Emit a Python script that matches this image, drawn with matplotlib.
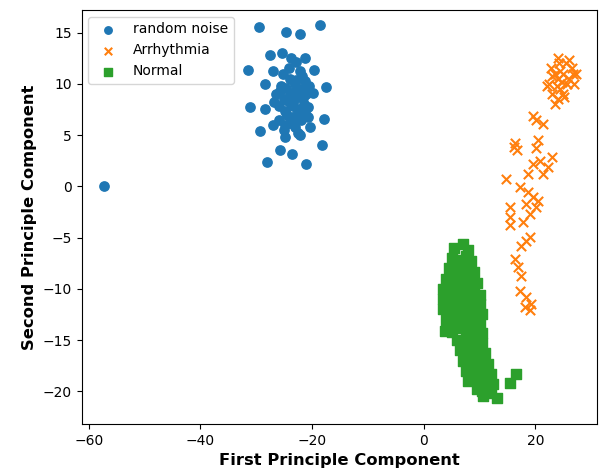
import numpy as np
import matplotlib.pyplot as plt

# random noise cluster (blue)
noise_x = [-57.2, -29.5, -24.6, -22.1, -18.5, -27.5, -25.4, -23.7, -22.8, -21.3,
           -31.5, -27.0, -25.2, -22.2, -19.7, -28.5, -21.3, -17.5, -31.2, -28.5,
           -19.9, -20.8, -17.8, -29.3, -27.0, -20.4, -22.2, -24.9, -25.8, -23.6,
           -18.3, -28.1, -21.0,
           -24.0, -23.0, -22.5, -24.5, -23.5, -22.0, -25.0, -26.0, -21.5, -23.0,
           -24.0, -25.5, -22.0, -23.0, -24.8, -21.0, -26.5, -20.5, -25.0, -22.8,
           -23.8, -21.8, -26.0, -22.5, -24.2, -20.8, -26.8, -23.2, -24.6, -21.2,
           -23.4, -22.2, -24.9, -25.7, -23.9, -21.6, -22.9, -24.3]
noise_y = [0.0, 15.5, 15.1, 14.9, 15.7, 12.8, 13.0, 12.5, 12.1, 12.5,
           11.3, 11.2, 11.0, 11.2, 11.3, 10.0, 10.3, 9.7, 7.7, 7.5,
           9.1, 7.7, 6.6, 5.4, 6.0, 5.8, 5.0, 4.8, 3.5, 3.2,
           4.0, 2.4, 2.2,
           9.0, 8.5, 7.5, 7.0, 6.5, 9.5, 8.5, 7.8, 8.0, 10.0,
           10.5, 9.8, 6.5, 5.8, 6.0, 9.0, 9.0, 9.8, 5.5, 7.0,
           8.0, 10.8, 6.5, 5.2, 11.5, 6.8, 8.2, 9.2, 9.6, 7.2,
           7.8, 8.8, 7.3, 9.3, 6.2, 8.6, 10.4, 8.3]

# Arrhythmia cluster (orange)
arr_x = [22.5, 23.0, 23.5, 24.0, 24.5, 25.0, 25.5, 26.0, 26.5, 27.0,
         24.0, 23.5, 25.0, 22.8, 24.2, 26.0, 25.6, 23.8, 24.8, 26.8,
         22.0, 23.0, 24.5, 25.2, 27.3, 24.0,
         19.6, 21.4, 20.2, 16.3, 16.7, 16.1, 20.5, 20.2, 22.9, 22.3,
         21.4, 19.6, 18.7, 20.8, 14.8, 17.2, 18.7, 19.6, 20.2, 19.0,
         18.4, 20.5, 15.4, 15.4, 15.4, 17.8, 18.4, 19.0, 17.5, 16.3,
         16.9, 17.5, 17.2, 18.4, 19.3, 19.0, 18.1]
arr_y = [10.0, 9.0, 11.0, 10.5, 9.5, 11.0, 12.0, 10.5, 11.5, 10.0,
         8.5, 8.0, 9.0, 11.5, 12.0, 12.3, 10.0, 9.8, 10.2, 11.0,
         9.8, 10.8, 11.2, 8.7, 11.0, 12.5,
         6.9, 6.1, 6.5, 4.2, 3.5, 3.8, 4.5, 3.7, 2.9, 1.9,
         1.2, 2.2, 1.2, 2.5, 0.7, -0.1, -0.6, -1.0, -2.0, -2.7,
         -1.7, -1.4, -2.0, -3.0, -3.8, -3.5, -5.3, -4.9, -5.8, -7.1,
         -7.9, -8.7, -10.2, -10.8, -11.5, -12.1, -11.8]

# Normal cluster (green)
norm_x = [5.5, 7.0, 8.0,
          5.0, 6.0, 7.5, 8.5,
          4.5, 6.0, 7.0, 8.0, 9.0,
          4.0, 5.5, 6.5, 8.0, 9.5,
          3.5, 5.0, 6.5, 7.5, 9.0, 10.0,
          3.5, 4.5, 6.0, 7.0, 8.5, 10.0,
          3.5, 5.0, 6.5, 8.0, 9.5, 10.5,
          4.0, 5.5, 7.0, 8.5, 10.0,
          3.8, 5.0, 7.0, 9.0, 10.5,
          6.0, 7.5, 9.0, 10.5,
          6.5, 8.0, 9.5, 11.0,
          7.0, 8.5, 10.0, 11.5,
          7.5, 9.0, 10.5, 12.0, 16.6,
          8.0, 9.5, 11.0, 12.5, 15.4,
          9.5, 10.5, 12.0,
          10.6, 13.1]
norm_y = [-6.0, -5.6, -6.2,
          -7.0, -7.2, -6.8, -7.3,
          -8.0, -8.2, -7.8, -8.1, -8.4,
          -9.0, -9.2, -8.8, -9.1, -9.4,
          -10.0, -10.2, -9.8, -10.1, -10.3, -10.6,
          -11.0, -11.2, -10.8, -11.1, -11.3, -11.5,
          -12.0, -12.2, -11.8, -12.1, -12.3, -12.5,
          -13.0, -13.2, -12.8, -13.1, -13.3,
          -14.1, -14.2, -13.8, -14.1, -14.3,
          -15.0, -14.8, -15.1, -15.3,
          -16.0, -15.8, -16.1, -16.3,
          -17.0, -16.8, -17.1, -17.3,
          -18.0, -17.8, -18.1, -18.3, -18.3,
          -19.0, -18.8, -19.1, -19.3, -19.2,
          -19.8, -20.0, -20.2,
          -20.5, -20.6]

fig, ax = plt.subplots(figsize=(6.04, 4.75), dpi=100)
ax.scatter(noise_x, noise_y, marker='o', s=45, label='random noise')
ax.scatter(arr_x, arr_y, marker='x', s=45, label='Arrhythmia')
ax.scatter(norm_x, norm_y, marker='s', s=45, label='Normal')
ax.set_xlim(-61.3, 31.0)
ax.set_ylim(-23.2, 17.2)
ax.set_xlabel('First Principle Component', fontsize=11.8, fontweight='bold')
ax.set_ylabel('Second Principle Component', fontsize=11.8, fontweight='bold')
ax.legend(loc='upper left', markerscale=0.8)
plt.subplots_adjust(left=0.135, right=0.988, top=0.979, bottom=0.107)
plt.savefig('out.png')
